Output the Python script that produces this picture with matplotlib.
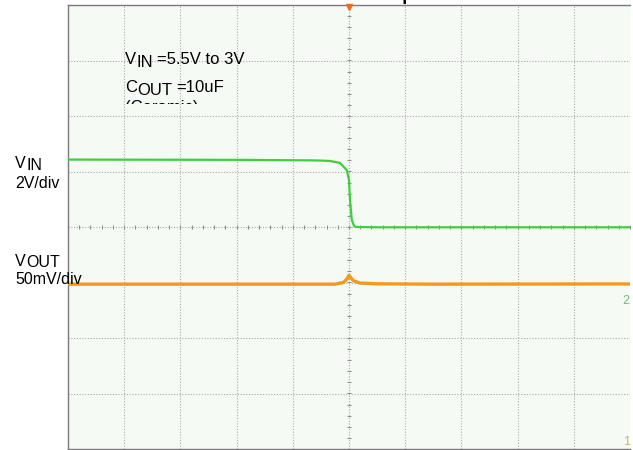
import matplotlib
matplotlib.use("Agg")
import matplotlib.pyplot as plt
import numpy as np
from matplotlib.transforms import Bbox

# ---- data (time in divisions, VIN in volts, VOUT deviation in mV) ----
t_vin = [-5.0, -2.0, -0.6, -0.34, -0.16, -0.04, 0.0, 0.018, 0.05, 0.09, 0.13, 0.5, 2.0, 5.0]
vin_v = [5.43, 5.42, 5.40, 5.38, 5.31, 5.05, 4.70, 3.97, 3.25, 3.04, 3.00, 2.99, 2.99, 2.99]
vin_ref_v = 3.0          # VIN level at center line
vin_scale = 2.0          # V/div

t_vout = [-5.0, -2.0, -0.25, -0.1, -0.03, 0.0, 0.03, 0.08, 0.2, 0.5, 1.5, 5.0]
vout_mv = [0.0, 0.0, 0.0, 1.5, 5.0, 8.0, 6.0, 3.0, 1.0, 0.3, 0.0, 0.2]
vout_offset_div = -1.03
vout_scale = 50.0        # mV/div

W, H = 633, 450
fig = plt.figure(figsize=(W / 100, H / 100), dpi=100)
fig.patch.set_facecolor("white")

ax_l, ax_r, ax_t, ax_b = 68, 630, 5, 449
ax = fig.add_axes([ax_l / W, 1 - ax_b / H, (ax_r - ax_l) / W, (ax_b - ax_t) / H])
ax.set_facecolor("#f5faf5")
ax.set_xlim(-5, 5)
ax.set_ylim(-4, 4)
ax.set_xticks([])
ax.set_yticks([])
for s in ["left", "top", "bottom"]:
    ax.spines[s].set_color("#7a7a7a")
    ax.spines[s].set_linewidth(1.0)
ax.spines["right"].set_visible(False)

grid_kw = dict(color="#ababab", lw=0.8, ls=(0, (1, 1.5)), zorder=1)
for gx in range(-4, 5):
    ax.axvline(gx, **grid_kw)
for gy in range(-3, 4):
    ax.axhline(gy, **grid_kw)

# minor ticks on center lines
mt = np.arange(-5, 5.001, 0.2)
ax.plot(mt, np.zeros_like(mt), ls="none", marker="|", ms=3.5, mew=0.8, color="#909090", zorder=1)
mty = np.arange(-4, 4.001, 0.2)
ax.plot(np.zeros_like(mty), mty, ls="none", marker="_", ms=3.5, mew=0.8, color="#909090", zorder=1)

# traces
vin_div = (np.array(vin_v) - vin_ref_v) / vin_scale
ax.plot(t_vin, vin_div, color="#3ecf3e", lw=1.6, zorder=3, solid_joinstyle="round")
vout_div = np.array(vout_mv) / vout_scale + vout_offset_div
ax.plot(t_vout, vout_div, color="#f19a1c", lw=2.4, zorder=3, solid_joinstyle="round")

# trigger marker at top
ax.plot([0], [3.96], marker="v", ms=5, color="#ee6a20", clip_on=False, zorder=4)

# channel markers
ax.text(4.93, -1.33, "2", color="#6cbf6c", fontsize=9, ha="center", va="center", family="Liberation Sans")
ax.text(4.93, -3.87, "1", color="#d2b850", fontsize=9, ha="center", va="center", family="Liberation Sans")

FONT = "Liberation Sans"
renderer = fig.canvas.get_renderer()


def ptxt(x, y, s, size, **kw):
    return fig.text(x / W, 1 - y / H, s, va="baseline", ha="left", fontsize=size,
                    family=FONT, color="black", **kw)


def chain(x, y, parts, size):
    arts = []
    for s, dy, gap in parts:
        t = ptxt(x, y + dy, s, size)
        bb = t.get_window_extent(renderer)
        x = bb.x1 + gap
        arts.append(t)
    return arts


# inside annotations
chain(125, 64, [("V", 0, 0.5), ("IN", 3, 4), ("=5.5V to 3V", 0, 0)], 12)
chain(125, 92, [("C", 0, 0.5), ("OUT", 3, 4), ("=10uF", 0, 0)], 12)
cer = ptxt(125, 112, "(Ceramic)", 12)
cer.set_clip_box(Bbox.from_extents(0, H - 104, W, H))
cer.set_clip_on(True)

# left labels
chain(15, 168, [("V", 0, 0.5), ("IN", 2, 0)], 11.5)
ptxt(15, 188, "2V/div", 11.5)
chain(15, 266, [("V", 0, 0.5), ("OUT", 1, 0)], 11.5)
ptxt(15, 284, "50mV/div", 11.5)

# title (mostly above the visible canvas, as in the reference)
fig.text((ax_l + ax_r) / 2 / W, 1 - 0.5 / H, "Line Transient Response", ha="center",
         va="baseline", fontsize=13, fontweight="bold", family=FONT)

fig.savefig("out.png", dpi=100)
